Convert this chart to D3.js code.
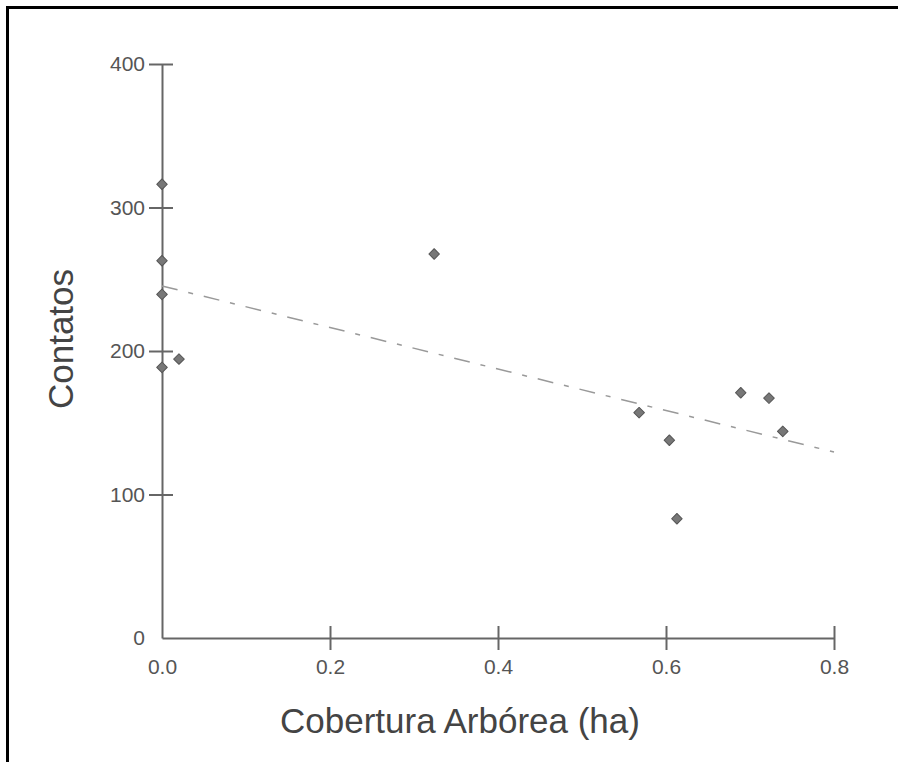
<!DOCTYPE html>
<html>
<head>
<meta charset="utf-8">
<script src="https://cdn.jsdelivr.net/npm/d3@7"></script>
<style>
  html, body { margin: 0; padding: 0; background: #fff; }
  svg { display: block; }
</style>
</head>
<body>
<svg id="chart" width="898" height="762"></svg>
<script>
// ---- data ----
const coberturaHa = [0, 0, 0, 0.0202, 0, 0.324, 0.568, 0.604, 0.613, 0.689, 0.7226, 0.739];
const contatos    = [316.2, 262.9, 239.5, 194.4, 188.6, 267.6, 157.0, 137.8, 83.1, 170.9, 167.2, 144.0];
const xTicks = [0, 0.2, 0.4, 0.6, 0.8];
const yTicks = [0, 100, 200, 300, 400];
const trendX = [0, 0.8];
const trendY = [245.3, 129.6];

const xLabel = "Cobertura Arbórea (ha)";
const yLabel = "Contatos";

const svg = d3.select("#chart");

// frame
svg.append("line").attr("x1", 6).attr("x2", 898).attr("y1", 7.5).attr("y2", 7.5)
  .attr("stroke", "#000").attr("stroke-width", 3);
svg.append("line").attr("x1", 7.5).attr("x2", 7.5).attr("y1", 6).attr("y2", 762)
  .attr("stroke", "#000").attr("stroke-width", 3);

const x = d3.scaleLinear().domain([0, 0.8]).range([162, 834]);
const y = d3.scaleLinear().domain([0, 400]).range([638, 64]);

const axisColor = "#666";
const font = "'Liberation Sans', Arial, sans-serif";

// y axis
const yAxis = d3.axisLeft(y).tickValues(yTicks).tickFormat(d3.format("d"))
  .tickSizeInner(13).tickSizeOuter(0).tickPadding(4);
const gy = svg.append("g").attr("transform", "translate(162,0)").call(yAxis);
gy.select(".domain").attr("stroke", axisColor).attr("stroke-width", 2);
gy.selectAll(".tick line").attr("stroke", axisColor).attr("stroke-width", 2)
  .attr("x1", 11)
  .attr("display", d => d === 0 ? "none" : null);
gy.selectAll(".tick text").attr("fill", "#555").style("font-family", font).style("font-size", "21px");

// x axis
const xAxis = d3.axisBottom(x).tickValues(xTicks).tickFormat(d3.format(".1f"))
  .tickSizeInner(12).tickSizeOuter(0).tickPadding(9);
const gx = svg.append("g").attr("transform", "translate(0,638)").call(xAxis);
gx.select(".domain").attr("stroke", axisColor).attr("stroke-width", 2);
gx.selectAll(".tick line").attr("stroke", axisColor).attr("stroke-width", 2)
  .attr("y1", -12)
  .attr("display", d => d === 0 ? "none" : null);
gx.selectAll(".tick text").attr("fill", "#555").style("font-family", font).style("font-size", "21px");

// trend line
svg.append("line")
  .attr("x1", x(trendX[0])).attr("y1", y(trendY[0]))
  .attr("x2", x(trendX[1])).attr("y2", y(trendY[1]))
  .attr("stroke", "#999").attr("stroke-width", 1.5)
  .attr("stroke-dasharray", "16 11 5 11");

// points
const sym = d3.symbol().type(d3.symbolSquare).size(56);
svg.append("g").selectAll("path")
  .data(coberturaHa.map((v, i) => [v, contatos[i]]))
  .join("path")
  .attr("d", sym)
  .attr("transform", d => `translate(${x(d[0])},${y(d[1])}) rotate(45)`)
  .attr("fill", "#777")
  .attr("stroke", "#555")
  .attr("stroke-width", 1)
  .attr("stroke-linejoin", "round");

// axis titles
svg.append("text")
  .attr("x", 460).attr("y", 733)
  .attr("text-anchor", "middle")
  .attr("fill", "#444")
  .style("font-family", font).style("font-size", "35px")
  .text(xLabel);

svg.append("text")
  .attr("transform", "translate(73,339) rotate(-90)")
  .attr("text-anchor", "middle")
  .attr("fill", "#444")
  .style("font-family", font).style("font-size", "35px")
  .text(yLabel);
</script>
</body>
</html>
